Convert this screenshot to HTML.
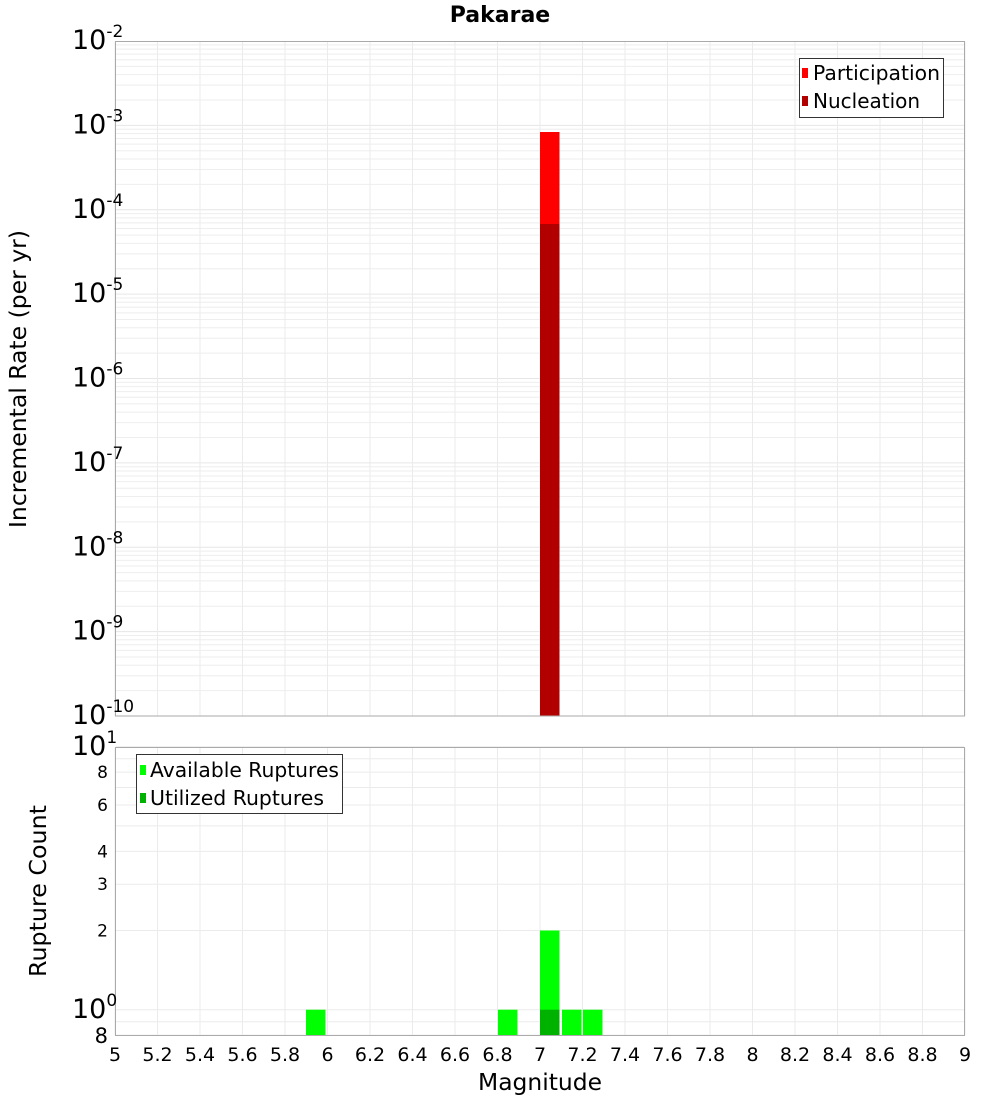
<!DOCTYPE html>
<html><head><meta charset="utf-8"><style>
body{margin:0;background:#fff}
svg text{font-family:"DejaVu Sans","Liberation Sans",sans-serif}
</style></head><body>
<svg id="s" width="1000" height="1100" xmlns="http://www.w3.org/2000/svg">
<rect width="1000" height="1100" fill="#fff"/>
<g id="grid"></g>
<rect x="540" y="132" width="19.5" height="584" fill="#ff0000"/>
<rect x="540" y="224" width="19.5" height="492" fill="#b20000"/>
<rect x="306" y="1009.7" width="19.5" height="25.3" fill="#00ff00"/>
<rect x="498" y="1009.7" width="19.5" height="25.3" fill="#00ff00"/>
<rect x="540" y="930.5" width="19.5" height="104.5" fill="#00ff00"/>
<rect x="540" y="1009.7" width="19.5" height="25.3" fill="#00b200"/>
<rect x="562" y="1009.7" width="19.5" height="25.3" fill="#00ff00"/>
<rect x="583" y="1009.7" width="19.5" height="25.3" fill="#00ff00"/>
<rect x="115.5" y="41.5" width="849" height="674.5" fill="none" stroke="#aaa"/>
<rect x="115.5" y="747.5" width="849" height="288" fill="none" stroke="#aaa"/>
<text x="500" y="22" text-anchor="middle" font-size="22" font-weight="bold">Pakarae</text>
<rect x="799.5" y="58.5" width="144" height="59" fill="#fff" stroke="#333"/>
<rect x="802" y="68" width="6" height="10" fill="#ff0000"/>
<text x="813" y="80" font-size="20" textLength="127" lengthAdjust="spacingAndGlyphs">Participation</text>
<rect x="802" y="96" width="6" height="10" fill="#b20000"/>
<text x="813" y="108" font-size="20">Nucleation</text>
<rect x="136.5" y="754.5" width="206" height="59" fill="#fff" stroke="#333"/>
<rect x="140" y="765" width="6" height="10" fill="#00ff00"/>
<text x="150" y="777" font-size="20" textLength="189" lengthAdjust="spacingAndGlyphs">Available Ruptures</text>
<rect x="140" y="793" width="6" height="10" fill="#00b200"/>
<text x="150" y="805" font-size="20" textLength="174" lengthAdjust="spacingAndGlyphs">Utilized Ruptures</text>
<g id="labels"></g>
<text x="540" y="1090" text-anchor="middle" font-size="23" textLength="124" lengthAdjust="spacingAndGlyphs">Magnitude</text>
<text transform="translate(26,379) rotate(-90)" text-anchor="middle" font-size="23" textLength="298" lengthAdjust="spacingAndGlyphs">Incremental Rate (per yr)</text>
<text transform="translate(46,891) rotate(-90)" text-anchor="middle" font-size="23" textLength="172" lengthAdjust="spacingAndGlyphs">Rupture Count</text>
</svg>
<script>
var NS="http://www.w3.org/2000/svg",g=document.getElementById('grid'),L=document.getElementById('labels');
function ln(x1,y1,x2,y2,c){var e=document.createElementNS(NS,'line');e.setAttribute('x1',x1);e.setAttribute('y1',y1);e.setAttribute('x2',x2);e.setAttribute('y2',y2);e.setAttribute('stroke',c);g.appendChild(e);}
function tx(x,y,s,sz,anc){var e=document.createElementNS(NS,'text');e.setAttribute('x',x);e.setAttribute('y',y);e.setAttribute('font-size',sz);if(anc)e.setAttribute('text-anchor',anc);e.innerHTML=s;L.appendChild(e);}
var dec=84.375;
for(var d=0;d<8;d++){for(var k=1;k<=9;k++){var y=716-d*dec-Math.log10(k)*dec;ln(116,y,964,y,k==1?'#e6e6e6':'#eeeeee');}}
for(var i=0;i<=20;i++){var x=115+i*42.5;ln(x,42,x,716,'#ebebeb');ln(x,748,x,1035,'#ebebeb');}
var bd=263;
[0.8,0.9,1,2,3,4,5,6,7,8,9,10].forEach(function(v){var y=1009.7-Math.log10(v)*bd;ln(116,y,964,y,'#ebebeb');});
for(var e=2;e<=10;e++){var y=41+(e-2)*dec;tx(72,y+8,'10<tspan dy="-12" font-size="17">-'+e+'</tspan>',27);}
tx(72,755,'10<tspan dy="-12" font-size="17">1</tspan>',27);
tx(72,1018,'10<tspan dy="-12" font-size="17">0</tspan>',27);
tx(108,1043,'8',21,'end');
[[8,'8'],[6,'6'],[4,'4'],[3,'3'],[2,'2']].forEach(function(a){var y=1009.7-Math.log10(a[0])*bd;tx(108,y+6,a[1],17,'end');});
for(var i=0;i<=20;i++){var v=5+i*0.2;var s=(Math.round(v*10)/10).toString();tx(115+i*42.5,1061,s,19,'middle');}
</script>
</body></html>
